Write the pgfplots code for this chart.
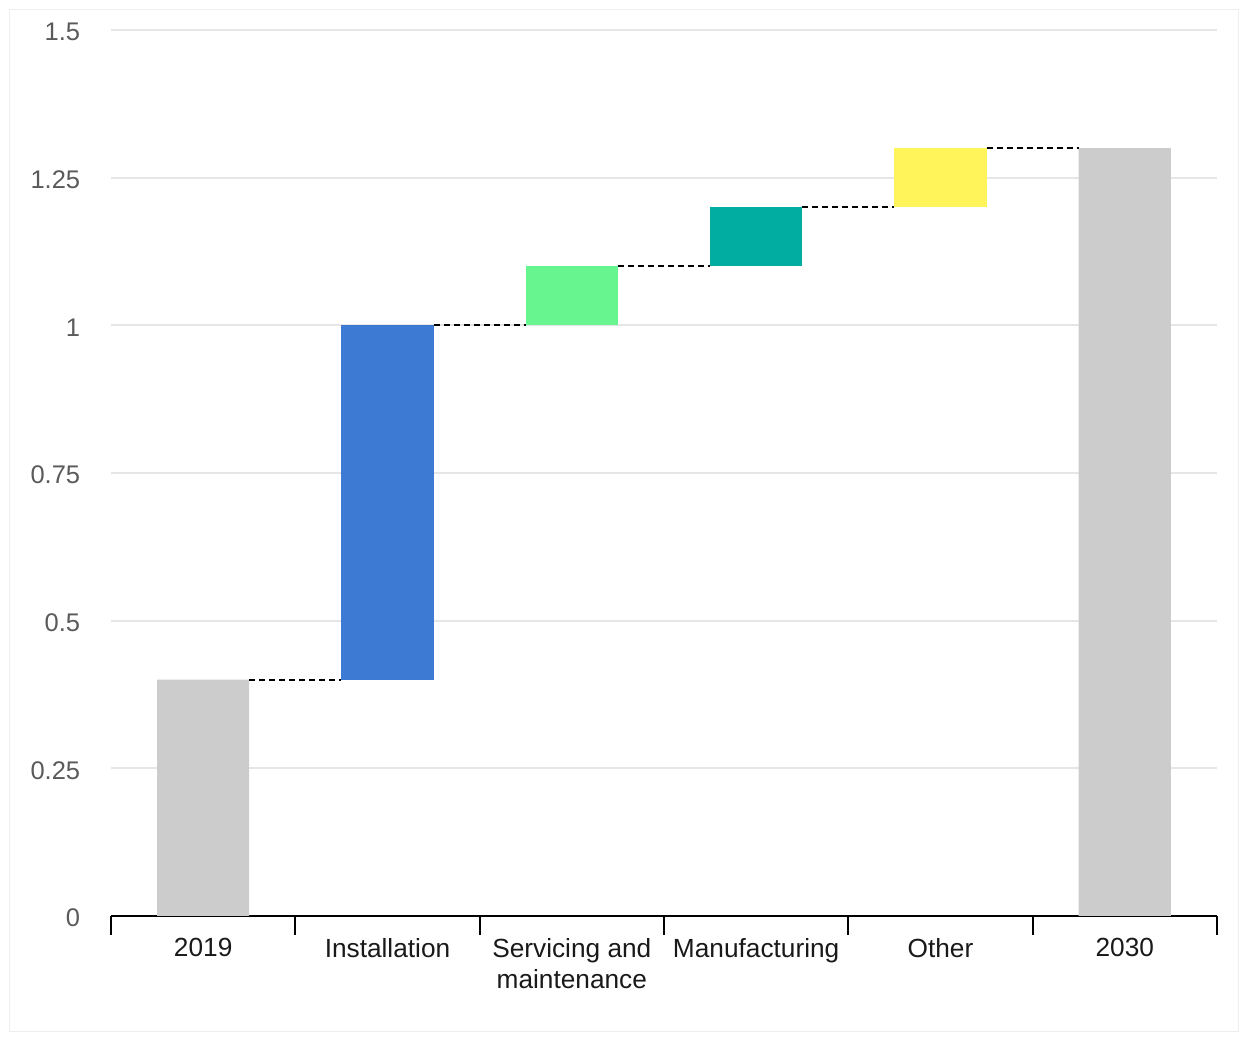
\documentclass[border=0pt]{standalone}
\usepackage{fontspec}
\setmainfont{Liberation Sans}
\usepackage{pgfplots}
\pgfplotsset{compat=1.18}
\definecolor{wgray}{HTML}{CCCCCC}
\definecolor{wblue}{HTML}{3D7AD4}
\definecolor{wgreen}{HTML}{66F58F}
\definecolor{wteal}{HTML}{00ADA0}
\definecolor{wyellow}{HTML}{FFF459}
\definecolor{gridgray}{HTML}{E6E6E6}
\definecolor{framegray}{HTML}{EEEEEE}
\definecolor{ticklab}{HTML}{5A5A5A}
\pgfplotsset{
  common/.style={
    scale only axis, width=442.4pt, height=354.4pt,
    xmin=-0.5, xmax=5.5, ymin=0, ymax=1.5,
  }
}
\begin{document}
\fontsize{10}{12}\selectfont
\begin{tikzpicture}
\path[use as bounding box] (-44.4pt,-50pt) rectangle (455.6pt,366.4pt);
\draw[color=framegray, line width=0.4pt] (-40.4pt,-46.4pt) rectangle (450.8pt,362.4pt);
\begin{axis}[
  common,
  ybar stacked, bar width=0.5,
  axis x line*=bottom, axis y line*=left,
  y axis line style={draw=none},
  x axis line style={line width=0.8pt, black, -},
  ytick={0,0.25,0.5,0.75,1,1.25,1.5},
  yticklabels={0,0.25,0.5,0.75,1,1.25,1.5},
  ytick style={draw=none},
  yticklabel style={text=ticklab, font=\fontsize{10.2}{12}\selectfont, xshift=-8.8pt, yshift=-0.8pt},
  /pgf/number format/assume math mode=true,
  ymajorgrids, grid style={color=gridgray, line width=0.8pt},
  xtick={0,1,2,3,4,5},
  xticklabels={2019,Installation,{Servicing and\\maintenance},Manufacturing,Other,2030},
  xticklabel style={align=center, text=black!90, font=\fontsize{10.5}{12.4}\selectfont, yshift=2.2pt},
  major x tick style={draw=none},
  minor xtick={-0.5,0.5,1.5,2.5,3.5,4.5,5.5},
  xtick align=outside,
  minor tick length=7.6pt,
  minor x tick style={black, line width=0.8pt},
  major tick length=7.6pt,
]
\addplot[draw=none, fill=none] coordinates {(0,0) (1,0.4) (2,1.0) (3,1.1) (4,1.2) (5,0)};
\addplot[draw=none, fill=wgray] coordinates {(0,0.4) (1,0) (2,0) (3,0) (4,0) (5,1.3)};
\addplot[draw=none, fill=wblue] coordinates {(0,0) (1,0.6) (2,0) (3,0) (4,0) (5,0)};
\addplot[draw=none, fill=wgreen] coordinates {(0,0) (1,0) (2,0.1) (3,0) (4,0) (5,0)};
\addplot[draw=none, fill=wteal] coordinates {(0,0) (1,0) (2,0) (3,0.1) (4,0) (5,0)};
\addplot[draw=none, fill=wyellow] coordinates {(0,0) (1,0) (2,0) (3,0) (4,0.1) (5,0)};
\end{axis}
\begin{axis}[common, hide axis]
\addplot[black, line width=0.8pt, dash pattern=on 2.4pt off 1.6pt, no marks] coordinates {(0.25,0.4) (0.75,0.4)};
\addplot[black, line width=0.8pt, dash pattern=on 2.4pt off 1.6pt, no marks] coordinates {(1.25,1.0) (1.75,1.0)};
\addplot[black, line width=0.8pt, dash pattern=on 2.4pt off 1.6pt, no marks] coordinates {(2.25,1.1) (2.75,1.1)};
\addplot[black, line width=0.8pt, dash pattern=on 2.4pt off 1.6pt, no marks] coordinates {(3.25,1.2) (3.75,1.2)};
\addplot[black, line width=0.8pt, dash pattern=on 2.4pt off 1.6pt, no marks] coordinates {(4.25,1.3) (4.75,1.3)};
\end{axis}
\end{tikzpicture}
\end{document}
